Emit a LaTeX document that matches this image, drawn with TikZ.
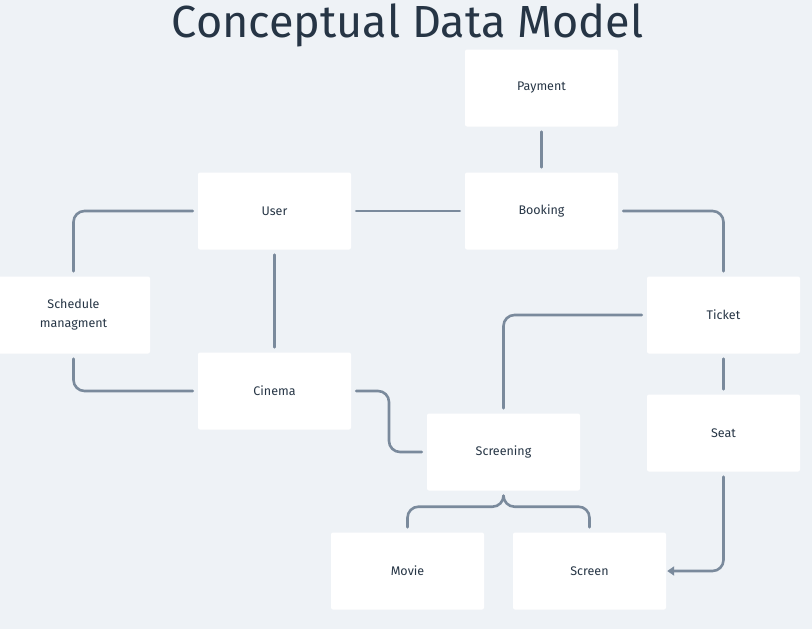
\documentclass[tikz,border=0pt]{standalone}
\usepackage{fontspec}
\setmainfont{Fira Sans}
\usetikzlibrary{positioning, calc, arrows.meta}
\definecolor{sfondo}{HTML}{EEF2F6}
\definecolor{linea}{HTML}{7A8A9C}
\definecolor{testo}{HTML}{263545}
\tikzset{
  entita/.style={fill=white, rounded corners=2pt, minimum width=153pt, minimum height=77pt,
    inner sep=0pt, align=center, text=testo, font=\fontsize{12.5}{19}\selectfont},
  legame/.style={draw=linea, line width=2.6pt, line cap=round, rounded corners=11pt,
    shorten <=5pt, shorten >=5pt}
}
\begin{document}
\begin{tikzpicture}[x=1pt,y=-1pt]
        %sfondo
        \fill[sfondo] (0,0) rectangle (812,629);
        \useasboundingbox (0,0) rectangle (812,629);
        %titolo
        \node[text=testo, font=\fontsize{45}{50}\selectfont] (titolo) at (407.5,25) {Conceptual Data Model};
        %entita
        \node[entita] (payment) at (541.5,88) {Payment};
        \node[entita] (user) at (274.5,211) {User};
        \node[entita] (booking) at (541.5,211) {Booking};
        \node[entita] (schedule) at (73.5,315) {Schedule\\managment};
        \node[entita] (ticket) at (723.5,315) {Ticket};
        \node[entita] (cinema) at (274.5,391) {Cinema};
        \node[entita] (seat) at (723.5,433) {Seat};
        \node[entita] (screening) at (503.5,452) {Screening};
        \node[entita] (movie) at (407.5,571) {Movie};
        \node[entita] (screen) at (589.5,571) {Screen};
        %legami diritti
        \draw[legame] (payment) -- (booking);
        \draw[legame] (user) -- (booking);
        \draw[legame] (user) -- (cinema);
        \draw[legame] (ticket) -- (seat);
        %legami con gomito
        \draw[legame] (booking.east) -| (ticket.north);
        \draw[legame] (user.west) -| (schedule.north);
        \draw[legame] (schedule.south) |- (cinema.west);
        \draw[legame] (cinema.east) -| ($(cinema.east)!0.5!(screening.west)$) |- (screening.west);
        \draw[legame] (ticket.west) -| (screening.north);
        \draw[legame] (screening.south) -- ++(0,16) -| (movie.north);
        \draw[legame] (screening.south) -- ++(0,16) -| (screen.north);
        %freccia verso screen
        \draw[legame, shorten >=1pt, -{Triangle[length=7pt,width=9pt]}] (seat.south) |- (screen.east);
\end{tikzpicture}
\end{document}
